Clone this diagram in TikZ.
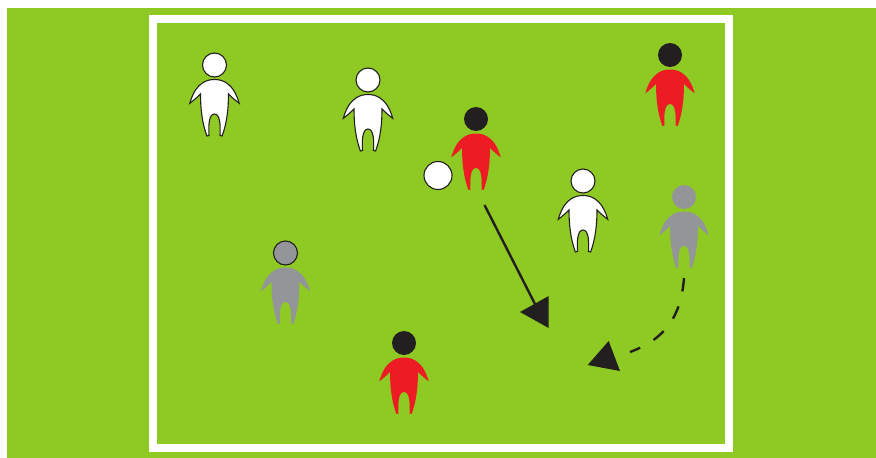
\documentclass[tikz,border=0pt]{standalone}
\definecolor{pitch}{RGB}{143,201,35}
\definecolor{kitred}{RGB}{237,28,36}
\definecolor{kitgray}{RGB}{147,149,152}
\definecolor{ink}{RGB}{35,31,32}
\tikzset{
  x=1pt,y=-1pt,
  headshape/.style={circle,minimum size=24pt,inner sep=0pt,outer sep=0pt},
  white player/.style={fill=white,draw=ink,line width=1.1pt},
  red player/.style={fill=kitred,draw=none},
  gray player/.style={fill=kitgray,draw=none},
  head red/.style={fill=ink,draw=none},
  head white/.style={fill=white,draw=ink,line width=1.1pt},
  head gray/.style={fill=kitgray,draw=none},
  head grayo/.style={fill=kitgray,draw=ink,line width=1.1pt},
  ballshape/.style={circle,minimum size=28pt,inner sep=0pt,fill=white,draw=ink,line width=1.1pt},
  arrowline/.style={draw=ink,line width=2.4pt},
  arrowhead/.style={fill=ink,draw=none},
  pics/player/.style 2 args={code={
    \path[#1] (0,14.5) .. controls (9,14.5) and (15,19) .. (19,25)
      .. controls (22,30) and (23.5,34) .. (24.7,38.3)
      .. controls (21,35.5) and (17.5,32.5) .. (14,29)
      .. controls (14,43) and (12.5,58) .. (7.6,71)
      .. controls (6.6,71) and (6.2,71) .. (5.5,70.5)
      .. controls (6,62) and (6,49) .. (0,49)
      .. controls (-6,49) and (-6,62) .. (-5.5,70.5)
      .. controls (-6.2,71) and (-6.6,71) .. (-7.6,71)
      .. controls (-12.5,58) and (-14,43) .. (-14,29)
      .. controls (-17.5,32.5) and (-21,35.5) .. (-24.7,38.3)
      .. controls (-23.5,34) and (-22,30) .. (-19,25)
      .. controls (-15,19) and (-9,14.5) .. (0,14.5) -- cycle;
    \node[headshape,#2] (-head) at (0,0) {};
  }}
}
\begin{document}
\begin{tikzpicture}
\useasboundingbox (0,0) rectangle (876,458);
\fill[pitch] (7,8) rectangle (876,458);
\draw[white,line width=8pt] (152.5,19) rectangle (729,448);
\pic (w1) at (214.5,65) {player={white player}{head white}};
\pic (w2) at (368,80) {player={white player}{head white}};
\pic (w3) at (583,181) {player={white player}{head white}};
\pic (r1) at (476,119) {player={red player}{head red}};
\pic (r2) at (670,55) {player={red player}{head red}};
\pic (r3) at (404,343) {player={red player}{head red}};
\pic (g1) at (684,197) {player={gray player}{head gray}};
\pic (g2) at (285.5,253) {player={gray player}{head grayo}};
\node[ballshape] (ball) at (438,175.5) {};
\coordinate (a1) at (484.5,205);
\coordinate (a2) at (536,306);
\coordinate (b1) at (684,278);
\coordinate (b2) at (630,352);
\draw[arrowline] (a1) -- (a2);
\path[arrowhead] (520,312) -- (548.7,296) -- (548.7,328) -- cycle;
\draw[arrowline,dash pattern=on 13.5pt off 15.5pt] (b1) .. controls (681,317) and (665,339) .. (b2);
\path[arrowhead] (587.7,365) -- (608.7,341) -- (620,371) -- cycle;
\end{tikzpicture}
\end{document}
